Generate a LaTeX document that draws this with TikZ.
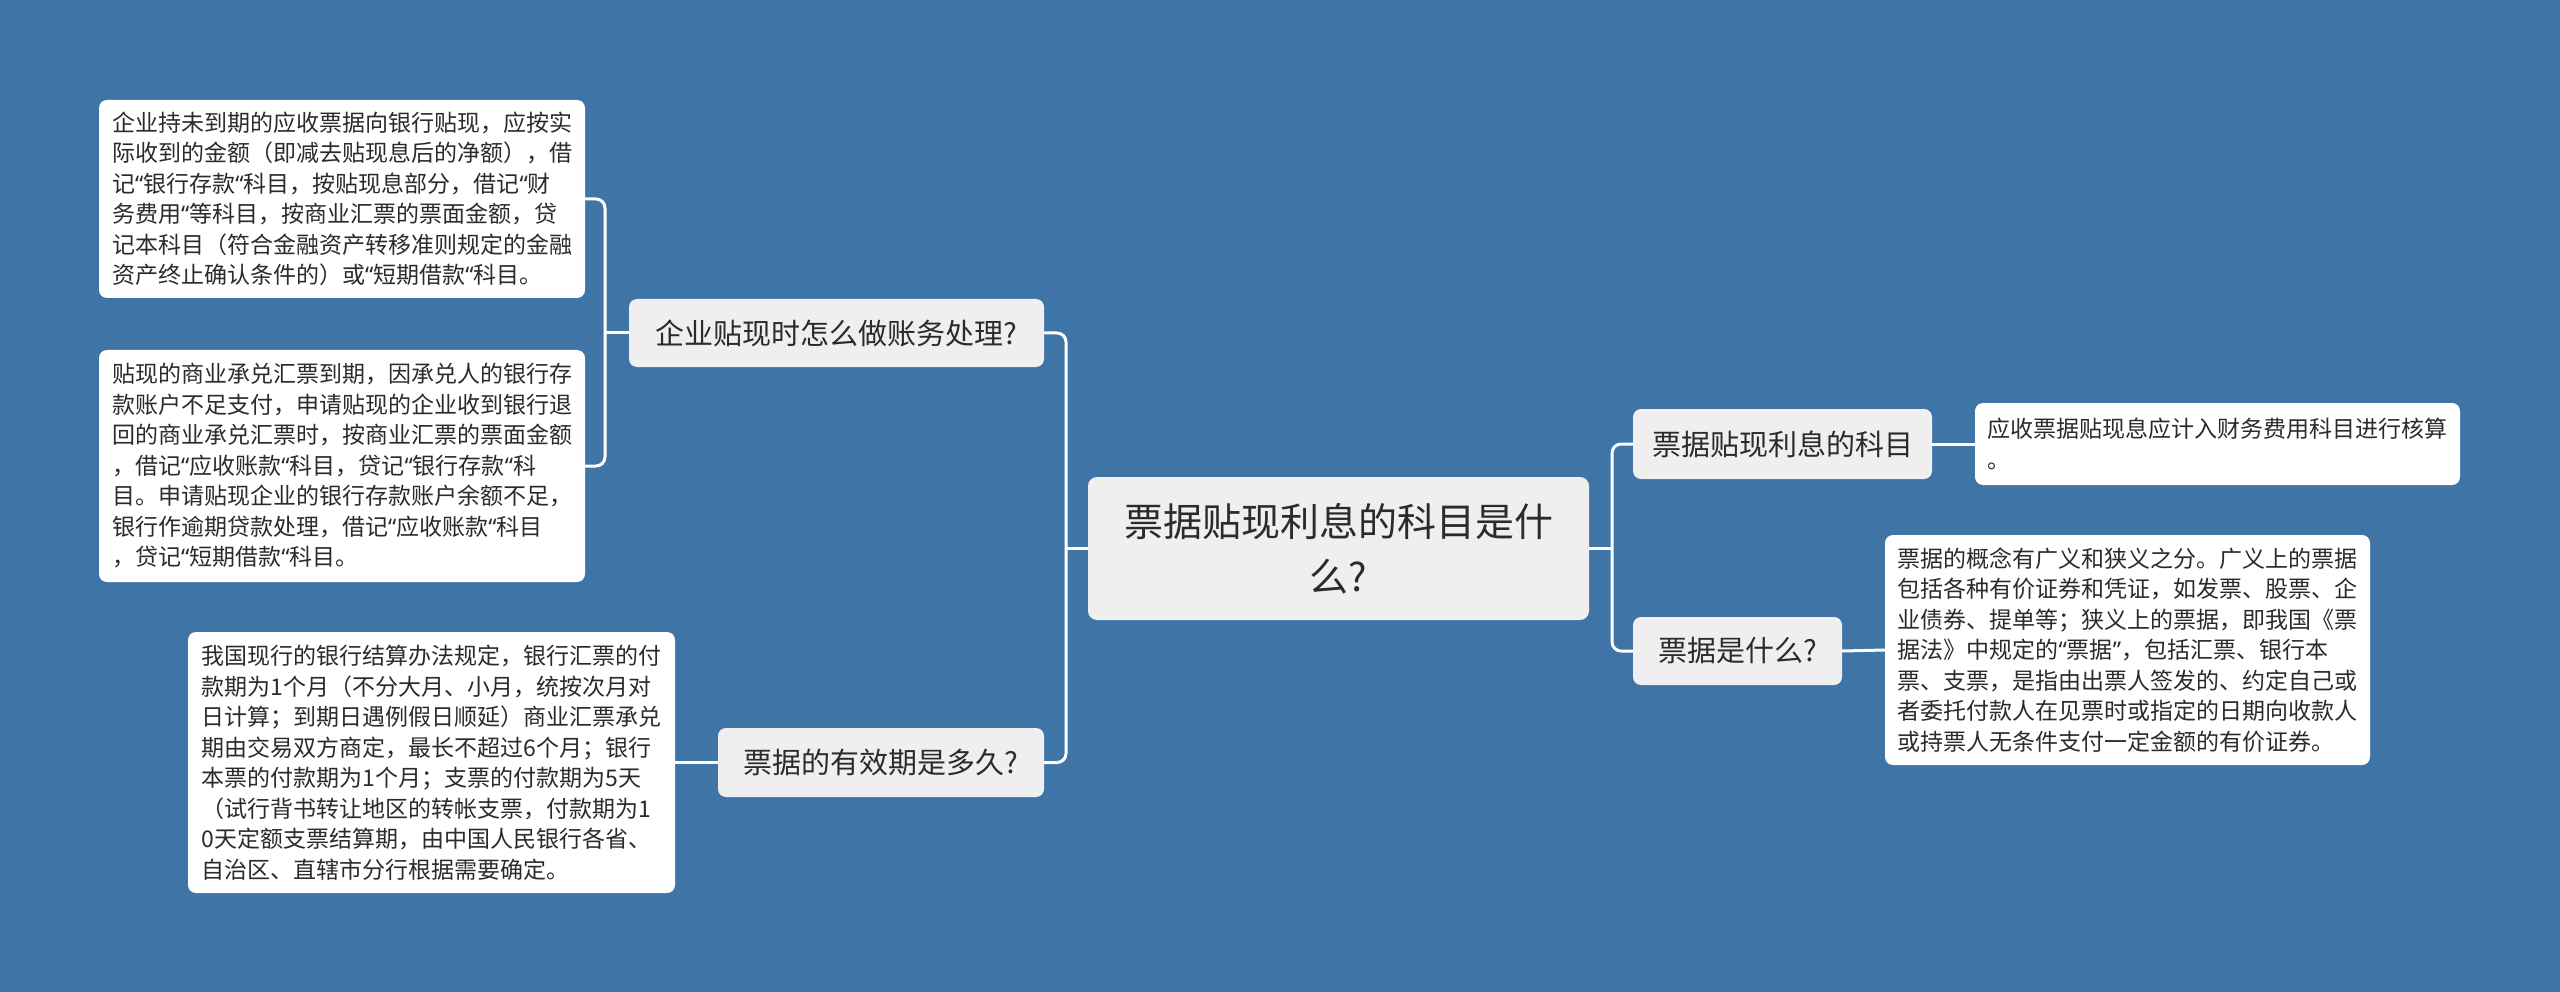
\documentclass[tikz,border=0pt]{standalone}
\usepackage{fontspec}
\setmainfont{Noto Sans CJK SC}
\newfontfamily\latq{Noto Sans}
\newcommand\qo{{\latq “}}
\newcommand\qc{{\latq ”}}
\definecolor{bgblue}{HTML}{3F74A6}
\definecolor{boxgray}{HTML}{EFEFEF}
\definecolor{txt}{HTML}{2B2B2B}
\tikzset{
  leafbox/.style={fill=white, rounded corners=8pt, inner sep=0pt, align=left, text=txt,
    font=\fontsize{23}{30.5}\selectfont},
  branchbox/.style={fill=boxgray, rounded corners=8pt, inner sep=0pt, align=center, text=txt,
    font=\fontsize{29}{36}\selectfont},
  rootbox/.style={fill=boxgray, rounded corners=9pt, inner sep=0pt, align=center, text=txt,
    font=\fontsize{39}{55}\selectfont},
  conn/.style={draw=white, line width=3pt, rounded corners=9pt},
}
\begin{document}
\begin{tikzpicture}[x=1pt,y=-1pt]
\fill[bgblue] (0,0) rectangle (2560,992);
\useasboundingbox (0,0) rectangle (2560,992);

\node[rootbox, minimum width=501pt, minimum height=143pt] (root) at (1338.5,548.5)
  {票据贴现利息的科目是什\\么?};

\node[branchbox, minimum width=415pt, minimum height=68pt] (lb1) at (836.5,333) {企业贴现时怎么做账务处理?};
\node[branchbox, minimum width=326pt, minimum height=69pt] (lb2) at (881,762.5) {票据的有效期是多久?};
\node[branchbox, minimum width=299pt, minimum height=70pt] (rb1) at (1782.5,444) {票据贴现利息的科目};
\node[branchbox, minimum width=209pt, minimum height=68pt] (rb2) at (1737.5,651) {票据是什么?};

\node[leafbox, minimum width=486pt, minimum height=198pt] (l1a) at (342,199) {%
企业持未到期的应收票据向银行贴现，应按实\\
际收到的金额（即减去贴现息后的净额），借\\
记\qo 银行存款\qo 科目，按贴现息部分，借记\qo 财\\
务费用\qo 等科目，按商业汇票的票面金额，贷\\
记本科目（符合金融资产转移准则规定的金融\\
资产终止确认条件的）或\qo 短期借款\qo 科目。};

\node[leafbox, minimum width=486pt, minimum height=232pt] (l1b) at (342,466) {%
贴现的商业承兑汇票到期，因承兑人的银行存\\
款账户不足支付，申请贴现的企业收到银行退\\
回的商业承兑汇票时，按商业汇票的票面金额\\
，借记\qo 应收账款\qo 科目，贷记\qo 银行存款\qo 科\\
目。申请贴现企业的银行存款账户余额不足，\\
银行作逾期贷款处理，借记\qo 应收账款\qo 科目\\
，贷记\qo 短期借款\qo 科目。};

\node[leafbox, minimum width=487pt, minimum height=261pt] (l2) at (431.5,762.5) {%
我国现行的银行结算办法规定，银行汇票的付\\
款期为1个月（不分大月、小月，统按次月对\\
日计算；到期日遇例假日顺延）商业汇票承兑\\
期由交易双方商定，最长不超过6个月；银行\\
本票的付款期为1个月；支票的付款期为5天\\
（试行背书转让地区的转帐支票，付款期为1\\
0天定额支票结算期，由中国人民银行各省、\\
自治区、直辖市分行根据需要确定。};

\node[leafbox, minimum width=485pt, minimum height=82pt] (r1) at (2217.5,444) {%
应收票据贴现息应计入财务费用科目进行核算\\
。};

\node[leafbox, minimum width=485pt, minimum height=230pt] (r2) at (2127.5,650) {%
票据的概念有广义和狭义之分。广义上的票据\\
包括各种有价证券和凭证，如发票、股票、企\\
业债券、提单等；狭义上的票据，即我国《票\\
据法》中规定的\qo 票据\qc ，包括汇票、银行本\\
票、支票，是指由出票人签发的、约定自己或\\
者委托付款人在见票时或指定的日期向收款人\\
或持票人无条件支付一定金额的有价证券。};

\coordinate (jl) at (1066,548.5);
\coordinate (jr) at (1612,548.5);
\coordinate (j1) at (605,333);

\draw[conn] (root.west) -- (jl);
\draw[conn] (lb1.east) -| (jl) |- (lb2.east);
\draw[conn] (root.east) -- (jr);
\draw[conn] (rb1.west) -| (jr) |- (rb2.west);
\draw[conn] (lb1.west) -- (j1);
\draw[conn] (l1a.east) -| (j1) |- (l1b.east);
\draw[conn] (lb2.west) -- (l2.east);
\draw[conn] (rb1.east) -- (r1.west);
\draw[conn] (rb2.east) -- (r2.west);
\end{tikzpicture}
\end{document}
